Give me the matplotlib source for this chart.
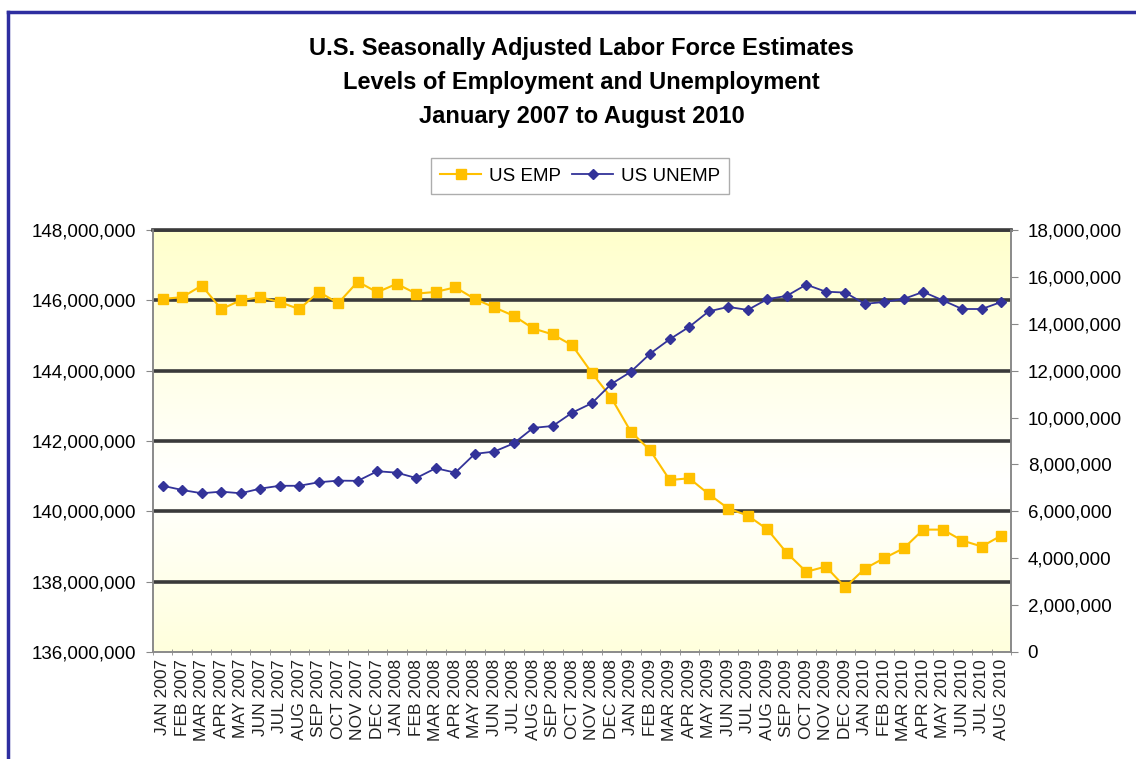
import numpy as np
import matplotlib
matplotlib.use('Agg')
import matplotlib.pyplot as plt
from matplotlib.ticker import FuncFormatter
from matplotlib.lines import Line2D

plt.rcParams['font.family'] = ['Liberation Sans', 'DejaVu Sans']

months = ['JAN', 'FEB', 'MAR', 'APR', 'MAY', 'JUN', 'JUL', 'AUG', 'SEP', 'OCT', 'NOV', 'DEC']
labels = [m + ' ' + str(y) for y in (2007, 2008, 2009, 2010) for m in months][:44]

# employment level (left axis)
emp = [146.04, 146.09, 146.42, 145.75, 146.00, 146.09, 145.95, 145.75, 146.24, 145.92,
       146.53, 146.23, 146.47, 146.19, 146.24, 146.37, 146.04, 145.80, 145.56, 145.20,
       145.03, 144.72, 143.94, 143.23, 142.27, 141.73, 140.89, 140.94, 140.49, 140.08,
       139.88, 139.49, 138.82, 138.28, 138.43, 137.84, 138.37, 138.67, 138.95, 139.48,
       139.48, 139.17, 139.00, 139.31]
# unemployment level (right axis)
unemp = [7.09, 6.91, 6.77, 6.84, 6.77, 6.97, 7.09, 7.09, 7.24, 7.31,
         7.30, 7.71, 7.65, 7.42, 7.84, 7.65, 8.45, 8.55, 8.90, 9.56,
         9.64, 10.21, 10.61, 11.43, 11.95, 12.73, 13.34, 13.87, 14.53, 14.72,
         14.59, 15.05, 15.19, 15.67, 15.37, 15.33, 14.85, 14.93, 15.06, 15.36,
         15.00, 14.63, 14.63, 14.93]
emp = np.array(emp) * 1e6
unemp = np.array(unemp) * 1e6

fig = plt.figure(figsize=(11.36, 7.59), dpi=100)
ax = fig.add_axes([153/1136, 1-652/759, (1011-153)/1136, (652-230)/759])
ax2 = ax.twinx()

# yellow/white gradient background
f = np.linspace(0, 1, 256)[:, None]
w = np.clip(np.abs(f - 0.40) / 0.60, 0, 1)
top = np.array([1.0, 1.0, 0.80])
grad = np.ones((256, 1, 3)) * (1 - w[..., None]) + top * w[..., None]
ax.imshow(grad, extent=[0, 1, 0, 1], transform=ax.transAxes, origin='lower',
          aspect='auto', zorder=0)

x = np.arange(len(labels))

for v in np.arange(138e6, 148.1e6, 2e6):
    ax.axhline(v, color='#3a3a3a', lw=2.6, zorder=1)

l1, = ax.plot(x, emp, color='#FFC000', marker='s', ms=6.5, lw=1.5, label='US EMP', zorder=3)
l2, = ax2.plot(x, unemp, color='#333399', marker='D', ms=5.5, lw=1.3, label='US UNEMP', zorder=4)

ax.set_xlim(-0.5, 43.5)
ax.set_ylim(136e6, 148e6)
ax2.set_ylim(0, 18e6)

fmt = FuncFormatter(lambda v, p: '{:,.0f}'.format(v))
ax.set_yticks(np.arange(136e6, 148.1e6, 2e6))
ax.yaxis.set_major_formatter(fmt)
ax2.set_yticks(np.arange(0, 18.1e6, 2e6))
ax2.yaxis.set_major_formatter(fmt)

ax.set_xticks(x)
ax.set_xticklabels(labels, rotation=90, fontsize=12.5, color='#222222')
ax.set_xticks(np.arange(-0.5, 44, 1), minor=True)
ax.tick_params(axis='x', which='major', length=0, pad=5)
ax.tick_params(axis='x', which='minor', length=5, color='#888888', direction='inout')
ax.tick_params(axis='y', labelsize=13.5, length=5, color='#888888', pad=7)
ax2.tick_params(axis='y', labelsize=13.5, length=5, color='#888888', pad=7)

for a in (ax, ax2):
    for s in a.spines.values():
        s.set_color('#8a8a8a')
        s.set_linewidth(1.2)
ax.spines['top'].set_color('#3a3a3a')
ax.spines['top'].set_linewidth(2.6)
ax2.spines['top'].set_visible(False)

fig.text(0.512, 1-48/759, 'U.S. Seasonally Adjusted Labor Force Estimates',
         ha='center', va='center', fontsize=17, fontweight='bold')
fig.text(0.512, 1-83/759, 'Levels of Employment and Unemployment',
         ha='center', va='center', fontsize=17, fontweight='bold')
fig.text(0.512, 1-116/759, 'January 2007 to August 2010',
         ha='center', va='center', fontsize=17, fontweight='bold')

leg = fig.legend([l1, l2], ['US EMP', 'US UNEMP'], loc='center',
                 bbox_to_anchor=(580/1136, 1-176/759), ncol=2, fontsize=13.5,
                 frameon=True, fancybox=False, handlelength=2.2, columnspacing=0.6,
                 handletextpad=0.4, borderpad=0.5)
leg.get_frame().set_edgecolor('#999999')
leg.get_frame().set_linewidth(1.0)

# outer blue frame (top and left edges)
fig.add_artist(Line2D([8/1136, 8/1136], [0, 1-12/759], color='#2e2ea0', lw=2.5,
                      transform=fig.transFigure))
fig.add_artist(Line2D([8/1136, 1], [1-12/759, 1-12/759], color='#2e2ea0', lw=2.5,
                      transform=fig.transFigure))

fig.savefig('out.png', dpi=100)
